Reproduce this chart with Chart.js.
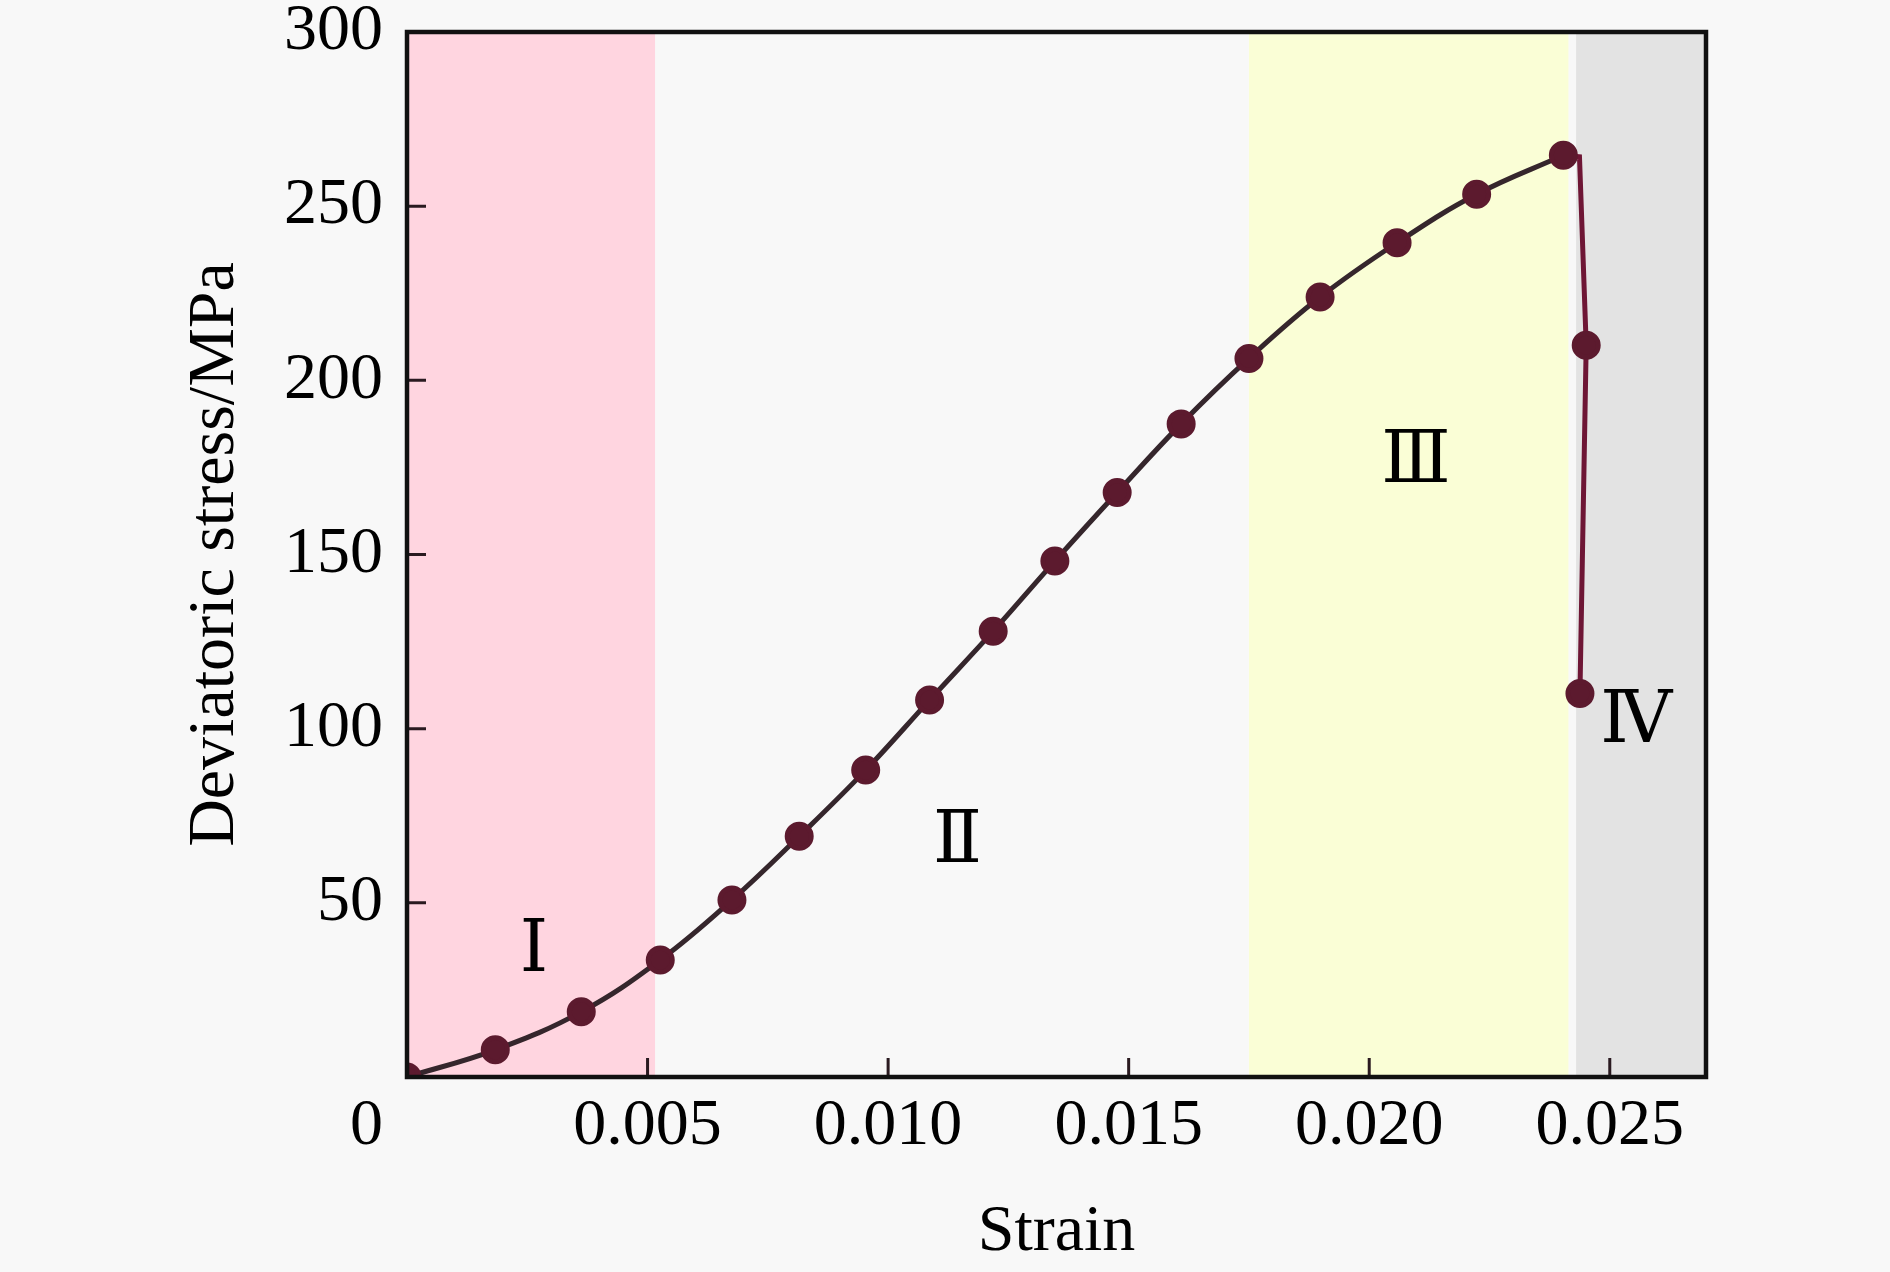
<!DOCTYPE html>
<html>
<head>
<meta charset="utf-8">
<script src="https://cdn.jsdelivr.net/npm/chart.js@4.4.1/dist/chart.umd.min.js"></script>
<style>
  html, body { margin: 0; padding: 0; background: #f8f8f8; }
  #wrap { width: 1890px; height: 1272px; }
</style>
</head>
<body>
<div id="wrap"><canvas id="stressChart"></canvas></div>
<script>
// strain / deviatoric stress (rising part, with markers)
const strainRise = [0, 0.001835, 0.003622, 0.005264, 0.006754, 0.008152, 0.009534, 0.010862,
  0.012184, 0.013466, 0.014761, 0.016091, 0.0175, 0.018979, 0.020579, 0.022233, 0.024035];
const stressRise = [0, 7.8, 18.7, 33.6, 50.8, 69.1, 88.1, 108.2,
  128.0, 148.1, 167.8, 187.5, 206.3, 223.9, 239.5, 253.4, 264.6];

// post-peak drop
const strainDrop = [0.024035, 0.02437, 0.02451, 0.02438];
const stressDrop = [264.6, 264.2, 210.1, 110.1];
const dropMarked = [false, false, true, true];

// deformation stages
const stageNames = ['Ⅰ', 'Ⅱ', 'Ⅲ', 'Ⅳ'];
const stageStart = [0, 0.00516, 0.0175, 0.0243];
const stageEnd = [0.00516, 0.0175, 0.02414, 0.027];
const stageLabelStrain = [0.00264, 0.01144, 0.02097, 0.02555];
const stageLabelStress = [35.9, 67.0, 176.2, 101.6];

// axes
const xTickValues = [0.005, 0.010, 0.015, 0.020, 0.025];
const xTickLabels = ['0.005', '0.010', '0.015', '0.020', '0.025'];
const yTickValues = [50, 100, 150, 200, 250, 300];
const yTickLabels = ['50', '100', '150', '200', '250', '300'];
const originLabel = '0';

const stageColors = ['#ffd5e0', '#f8f8f8', '#fafed6', '#e3e3e3'];
const serif = "'Liberation Serif', 'Times New Roman', serif";
const numeralFont = "'DejaVu Serif', 'Liberation Serif', serif";
const fontSize = 66;
const xTickPad = 10;
const yTickPad = 24;

const stagePlugin = {
  id: 'stages',
  beforeDatasetsDraw(chart) {
    const { ctx, chartArea: a, scales: { x } } = chart;
    ctx.save();
    stageStart.forEach((s, i) => {
      const x0 = x.getPixelForValue(s);
      const x1 = x.getPixelForValue(stageEnd[i]);
      ctx.fillStyle = stageColors[i];
      ctx.fillRect(x0, a.top, x1 - x0, a.bottom - a.top);
    });
    ctx.restore();
  },
  afterDatasetsDraw(chart) {
    const { ctx, chartArea: a, scales: { x, y } } = chart;
    ctx.save();

    // stage numerals
    ctx.fillStyle = '#000';
    ctx.font = '72px ' + numeralFont;
    ctx.textAlign = 'center';
    ctx.textBaseline = 'middle';
    stageNames.forEach((n, i) => {
      ctx.fillText(n, x.getPixelForValue(stageLabelStrain[i]), y.getPixelForValue(stageLabelStress[i]));
    });

    // inward ticks
    ctx.strokeStyle = '#2a1a20';
    ctx.lineWidth = 3;
    ctx.beginPath();
    xTickValues.forEach(v => {
      const px = x.getPixelForValue(v);
      ctx.moveTo(px, a.bottom);
      ctx.lineTo(px, a.bottom - 19);
    });
    yTickValues.slice(0, -1).forEach(v => {
      const py = y.getPixelForValue(v);
      ctx.moveTo(a.left, py);
      ctx.lineTo(a.left + 19, py);
    });
    ctx.stroke();

    // frame
    ctx.strokeStyle = '#111';
    ctx.lineWidth = 4.5;
    ctx.strokeRect(a.left, a.top, a.right - a.left, a.bottom - a.top);

    // shared origin label
    ctx.font = fontSize + 'px ' + serif;
    ctx.textAlign = 'right';
    ctx.fillText(originLabel, a.left - yTickPad, a.bottom + xTickPad + fontSize * 1.2 / 2);
    ctx.restore();
  }
};

const ctx = document.getElementById('stressChart').getContext('2d');

new Chart(ctx, {
  type: 'line',
  data: {
    datasets: [
      {
        label: 'Deviatoric stress',
        data: strainRise.map((s, i) => ({ x: s, y: stressRise[i] })),
        borderColor: '#35262c',
        borderWidth: 5,
        tension: 0.4,
        pointRadius: 12,
        pointBackgroundColor: '#5c1a2e',
        pointBorderColor: '#5c1a2e',
        clip: 0
      },
      {
        label: 'Failure',
        data: strainDrop.map((s, i) => ({ x: s, y: stressDrop[i] })),
        borderColor: '#6e1635',
        borderWidth: 5,
        tension: 0,
        pointRadius: dropMarked.map(m => (m ? 12 : 0)),
        pointBackgroundColor: '#5c1a2e',
        pointBorderColor: '#5c1a2e',
        clip: 0
      }
    ]
  },
  options: {
    responsive: true,
    maintainAspectRatio: false,
    animation: false,
    layout: { padding: { top: 32, right: 184, bottom: 0, left: 0 } },
    plugins: {
      legend: { display: false },
      tooltip: { enabled: false }
    },
    scales: {
      x: {
        type: 'linear',
        position: 'bottom',
        min: 0,
        max: 0.027,
        afterBuildTicks: s => { s.ticks = xTickValues.map(v => ({ value: v })); },
        afterFit: s => { s.height = 195; s.paddingLeft = 0; s.paddingRight = 0; },
        grid: { display: false, drawTicks: false },
        border: { display: false },
        ticks: {
          autoSkip: false,
          maxRotation: 0,
          padding: xTickPad,
          color: '#000',
          font: { family: serif, size: fontSize },
          callback: (v, i) => xTickLabels[i]
        },
        title: {
          display: true,
          text: 'Strain',
          color: '#000',
          font: { family: serif, size: fontSize },
          padding: { top: 0, bottom: 0 }
        }
      },
      y: {
        type: 'linear',
        min: 0,
        max: 300,
        afterBuildTicks: s => { s.ticks = yTickValues.map(v => ({ value: v })); },
        afterFit: s => { s.width = 407; s.paddingTop = 0; s.paddingBottom = 0; },
        grid: { display: false, drawTicks: false },
        border: { display: false },
        ticks: {
          autoSkip: false,
          padding: yTickPad,
          color: '#000',
          font: { family: serif, size: fontSize },
          callback: (v, i) => yTickLabels[i]
        },
        title: {
          display: true,
          text: 'Deviatoric stress/MPa',
          color: '#000',
          font: { family: serif, size: fontSize },
          padding: { top: 176, bottom: 0 }
        }
      }
    }
  },
  plugins: [stagePlugin]
});
</script>
</body>
</html>
